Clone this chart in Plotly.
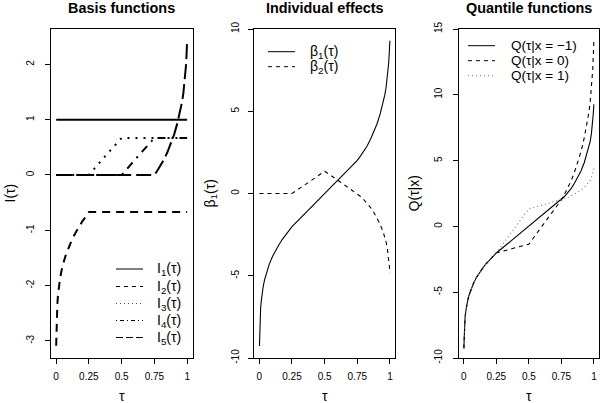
import plotly.graph_objects as go

# ---------------- data ----------------
tau = [0.001, 0.0025, 0.005, 0.01, 0.015, 0.02, 0.03, 0.04, 0.05, 0.075, 0.1,
       0.125, 0.15, 0.175, 0.2, 0.225, 0.25, 0.375, 0.5, 0.625, 0.75, 0.775,
       0.8, 0.825, 0.85, 0.875, 0.9, 0.925, 0.95, 0.96, 0.97, 0.98, 0.985,
       0.99, 0.995, 0.9975, 0.999]

# Basis functions
I1 = [1.0] * 37
I2 = [-3.09, -2.81, -2.58, -2.33, -2.17, -2.05, -1.88, -1.75, -1.64, -1.44, -1.28,
      -1.15, -1.04, -0.93, -0.84, -0.76, -0.67, -0.67, -0.67, -0.67, -0.67, -0.67,
      -0.67, -0.67, -0.67, -0.67, -0.67, -0.67, -0.67, -0.67, -0.67, -0.67, -0.67,
      -0.67, -0.67, -0.67, -0.67]
I3 = [0, 0, 0, 0, 0, 0, 0, 0, 0, 0, 0,
      0, 0, 0, 0, 0, 0, 0.34, 0.67, 0.67, 0.67, 0.67,
      0.67, 0.67, 0.67, 0.67, 0.67, 0.67, 0.67, 0.67, 0.67, 0.67, 0.67,
      0.67, 0.67, 0.67, 0.67]
I4 = [0, 0, 0, 0, 0, 0, 0, 0, 0, 0, 0,
      0, 0, 0, 0, 0, 0, 0, 0, 0.34, 0.67, 0.67,
      0.67, 0.67, 0.67, 0.67, 0.67, 0.67, 0.67, 0.67, 0.67, 0.67, 0.67,
      0.67, 0.67, 0.67, 0.67]
I5 = [0, 0, 0, 0, 0, 0, 0, 0, 0, 0, 0,
      0, 0, 0, 0, 0, 0, 0, 0, 0, 0, 0.09,
      0.19, 0.29, 0.42, 0.56, 0.73, 0.94, 1.20, 1.32, 1.47, 1.67, 1.80,
      1.97, 2.20, 2.33, 2.42]

# Individual effects
beta1 = [-9.27, -8.42, -7.73, -6.98, -6.51, -6.16, -5.64, -5.25, -4.93, -4.32, -3.84,
         -3.45, -3.11, -2.80, -2.52, -2.27, -2.02, -1.01, 0.0, 1.01, 2.02, 2.29,
         2.59, 2.89, 3.28, 3.70, 4.21, 4.84, 5.62, 5.98, 6.43, 7.03, 7.42,
         7.93, 8.62, 9.01, 9.28]
beta2 = [0, 0, 0, 0, 0, 0, 0, 0, 0, 0, 0,
         0, 0, 0, 0, 0, 0, 0.67, 1.35, 0.67, 0.0, -0.18,
         -0.38, -0.58, -0.84, -1.12, -1.46, -1.88, -2.40, -2.64, -2.94, -3.34, -3.60,
         -3.94, -4.40, -4.66, -4.84]

# Quantile functions
q_xm1 = [-9.27, -8.42, -7.73, -6.98, -6.51, -6.16, -5.64, -5.25, -4.93, -4.32, -3.84,
         -3.45, -3.11, -2.80, -2.52, -2.27, -2.02, -1.01, 0.0, 1.01, 2.02, 2.29,
         2.59, 2.89, 3.28, 3.70, 4.21, 4.84, 5.62, 5.98, 6.43, 7.03, 7.42,
         7.93, 8.62, 9.01, 9.28]
q_x0 = [-9.27, -8.42, -7.73, -6.98, -6.51, -6.16, -5.64, -5.25, -4.93, -4.32, -3.84,
        -3.45, -3.11, -2.80, -2.52, -2.27, -2.02, -1.68, -1.35, 0.34, 2.02, 2.47,
        2.97, 3.47, 4.12, 4.82, 5.67, 6.72, 8.02, 8.62, 9.37, 10.37, 11.02,
        11.87, 13.02, 13.67, 14.12]
q_x1 = [-9.27, -8.42, -7.73, -6.98, -6.51, -6.16, -5.64, -5.25, -4.93, -4.32, -3.84,
        -3.45, -3.11, -2.80, -2.52, -2.27, -2.02, -0.34, 1.35, 1.68, 2.02, 2.11,
        2.21, 2.31, 2.44, 2.58, 2.75, 2.96, 3.22, 3.34, 3.49, 3.69, 3.82,
        3.99, 4.22, 4.35, 4.44]

# Tick labels
x_tickvals = [0, 0.25, 0.5, 0.75, 1]
x_ticktext = ["0", "0.25", "0.5", "0.75", "1"]
y1_tickvals = [-3, -2, -1, 0, 1, 2]
y1_ticktext = ["-3", "-2", "-1", "0", "1", "2"]
y2_tickvals = [-10, -5, 0, 5, 10]
y2_ticktext = ["-10", "-5", "0", "5", "10"]
y3_tickvals = [-10, -5, 0, 5, 10, 15]
y3_ticktext = ["-10", "-5", "0", "5", "10", "15"]

# Legend labels
legend1_labels = ["I<sub>1</sub>(τ)", "I<sub>2</sub>(τ)", "I<sub>3</sub>(τ)",
                  "I<sub>4</sub>(τ)", "I<sub>5</sub>(τ)"]
legend2_labels = ["β<sub>1</sub>(τ)", "β<sub>2</sub>(τ)"]
legend3_labels = ["Q(τ|x = \u22121)", "Q(τ|x = 0)", "Q(τ|x = 1)"]

# ---------------- layout helpers ----------------
W, H = 600, 403
FONT = "Liberation Sans, Arial, Helvetica, sans-serif"


def fx(p):
    return p / W


def fy(p):
    return 1 - p / H


BOX_TOP, BOX_BOT = 29, 358
PANELS = [(50.8, 192.5), (254.1, 395.2), (458.5, 599.2)]
YLAB_STANDOFF = [7, 5, 7]

fig = go.Figure()


def add_line(x, y, ax, dash, width, color="black"):
    fig.add_trace(go.Scatter(
        x=x, y=y, mode="lines", xaxis="x" + ax, yaxis="y" + ax,
        line=dict(color=color, width=width, dash=dash),
        showlegend=False, hoverinfo="skip"))


# Panel 1: basis functions
add_line(tau, I1, "", "solid", 2)
add_line(tau, I2, "", "8px,6px", 2)
add_line(tau, I3, "", "2px,6px", 2)
add_line(tau, I4, "", "2px,6px,8px,6px", 2)
add_line(tau, I5, "", "15px,5px", 2)

# Panel 2: individual effects
add_line(tau, beta1, "2", "solid", 1.1)
add_line(tau, beta2, "2", "4px,4px", 1.1)

# Panel 3: quantile functions
add_line(tau, q_xm1, "3", "solid", 1.1)
add_line(tau, q_x0, "3", "4px,4px", 1.1)
add_line(tau, q_x1, "3", "1px,3px", 1.1, color="#777")

axis_common = dict(
    showline=True, mirror=True, linecolor="black", linewidth=1,
    ticks="outside", ticklen=5, tickwidth=1, tickcolor="black",
    showgrid=False, zeroline=False, tickmode="array", automargin=False,
    tickfont=dict(family=FONT, size=10, color="black"),
)

y_domain = [fy(BOX_BOT), fy(BOX_TOP)]
yranges = [[-3.31, 2.64], [-10, 10], [-10, 15]]
yticks = [(y1_tickvals, y1_ticktext), (y2_tickvals, y2_ticktext), (y3_tickvals, y3_ticktext)]

layout = dict(
    width=W, height=H, margin=dict(l=0, r=0, t=0, b=0, autoexpand=False),
    paper_bgcolor="white", plot_bgcolor="white", showlegend=False,
    font=dict(family=FONT, color="black"),
)
for i, (x0, x1) in enumerate(PANELS):
    sfx = "" if i == 0 else str(i + 1)
    layout["xaxis" + sfx] = dict(
        axis_common, domain=[fx(x0), fx(x1)], range=[-0.04, 1.04],
        anchor="y" + sfx, tickvals=x_tickvals, ticktext=x_ticktext,
        ticklabelstandoff=4)
    layout["yaxis" + sfx] = dict(
        axis_common, domain=y_domain, range=yranges[i], anchor="x" + sfx,
        tickvals=yticks[i][0], ticktext=yticks[i][1], tickangle=-90,
        ticklabelstandoff=YLAB_STANDOFF[i])

fig.update_layout(**layout)

titles = ["Basis functions", "Individual effects", "Quantile functions"]
ytitles = [("I(τ)", 9), ("β<sub>1</sub>(τ)", 210), ("Q(τ|x)", 413)]
for i, (x0, x1) in enumerate(PANELS):
    cx = (x0 + x1) / 2
    fig.add_annotation(text="<b>%s</b>" % titles[i], x=fx(cx), y=fy(8), xref="paper", yref="paper",
                       showarrow=False, xanchor="center", yanchor="middle",
                       font=dict(family=FONT, size=14.4, color="black"))
    fig.add_annotation(text="τ", x=fx(cx), y=fy(396), xref="paper", yref="paper",
                       showarrow=False, xanchor="center", yanchor="middle",
                       font=dict(family=FONT, size=14, color="black"))
    fig.add_annotation(text=ytitles[i][0], x=fx(ytitles[i][1]), y=fy((BOX_TOP + BOX_BOT) / 2),
                       xref="paper", yref="paper", showarrow=False, textangle=-90,
                       xanchor="center", yanchor="middle",
                       font=dict(family=FONT, size=14, color="black"))


# Manual legends (key line + label), placed like the reference's legend boxes
def add_legend(labels, styles, line_x0, line_x1, text_x, rows, size):
    for lab, (dash, color), ry in zip(labels, styles, rows):
        fig.add_shape(type="line", xref="paper", yref="paper",
                      x0=fx(line_x0), x1=fx(line_x1), y0=fy(ry), y1=fy(ry),
                      line=dict(color=color, width=1, dash=dash))
        fig.add_annotation(text=lab, x=fx(text_x), y=fy(ry), xref="paper", yref="paper",
                           showarrow=False, xanchor="left", yanchor="middle",
                           font=dict(family=FONT, size=size, color="black"))


add_legend(legend1_labels,
           [("solid", "black"), ("4px,4px", "black"), ("1px,3px", "#555"),
            ("1px,3px,4px,3px", "black"), ("7px,3px", "black")],
           116, 143, 155, [269, 286.5, 303.5, 320.5, 337.5], 14)
add_legend(legend2_labels, [("solid", "black"), ("4px,4px", "black")],
           268, 295, 308, [51.7, 66.7], 14)
add_legend(legend3_labels, [("solid", "black"), ("4px,4px", "black"), ("1px,3px", "#777")],
           468, 495, 509, [45.7, 60.7, 75.7], 13.5)

fig.write_html("out.html",
               config={"displayModeBar": False, "staticPlot": True},
               post_script="document.body.style.margin='0px';"
                           "document.body.style.overflow='hidden';")
